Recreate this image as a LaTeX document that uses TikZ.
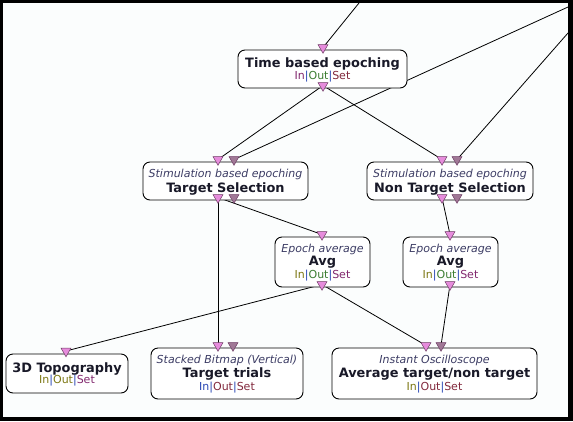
\documentclass[tikz,border=0pt]{standalone}
\usepackage{fontspec}
\setmainfont{DejaVu Sans}
\usetikzlibrary{shapes.geometric}
\pgfdeclarelayer{back}
\pgfdeclarelayer{mid}
\pgfsetlayers{back,mid,main}
\definecolor{bgc}{RGB}{251,253,253}
\definecolor{pinkT}{RGB}{230,140,220}
\definecolor{grayT}{RGB}{160,120,150}
\definecolor{triEdge}{RGB}{110,60,100}
\definecolor{italc}{RGB}{60,60,100}
\definecolor{boldc}{RGB}{25,25,40}
\definecolor{pipec}{RGB}{40,70,180}
\definecolor{olivec}{RGB}{125,120,20}
\definecolor{greenc}{RGB}{60,125,50}
\definecolor{maroonc}{RGB}{130,40,60}
\definecolor{purplec}{RGB}{130,40,110}
\newcommand{\iot}[3]{\textcolor{#1}{In}\textcolor{pipec}{|}\textcolor{#2}{Out}\textcolor{pipec}{|}\textcolor{#3}{Set}}
\tikzset{
  box/.style args={#1/#2}{draw=black, line width=0.9pt, rounded corners=7pt, fill=white,
    inner sep=0pt, minimum width=#1pt, minimum height=#2pt},
  tripink/.style={regular polygon, regular polygon sides=3, shape border rotate=180,
    minimum size=11.5pt, inner sep=0pt, fill=pinkT, draw=triEdge, line width=0.5pt},
  trigray/.style={tripink, fill=grayT},
  conn/.style={draw=black, line width=0.8pt},
  itl/.style={anchor=base, inner sep=0pt, text=italc, font=\fontsize{11}{13}\selectfont\itshape},
  bld/.style={anchor=base, inner sep=0pt, text=boldc, font=\fontsize{12.9}{15}\selectfont\bfseries},
  iotx/.style={anchor=base, inner sep=0pt, font=\fontsize{11}{13}\selectfont},
}
\begin{document}
\begin{tikzpicture}[x=1pt,y=-1pt]
\useasboundingbox (0,0) rectangle (573,421);
\begin{pgfonlayer}{back}
\fill[black] (0,0) rectangle (573,421);
\fill[bgc] (3,3) rectangle (568,417);
\end{pgfonlayer}

% edge coordinates
\coordinate (e1) at (359,3);
\coordinate (e2) at (568,7);
\coordinate (e3) at (568,33);

% boxes
\node[box=169/38] (TB) at (322.5,69) {};
\node[box=165/38] (TS) at (225.5,181) {};
\node[box=166/38] (NT) at (450,181) {};
\node[box=95/50] (A1) at (322.5,262) {};
\node[box=95/50] (A2) at (450.5,262) {};
\node[box=122/39] (TD) at (67,373.5) {};
\node[box=152/51] (TT) at (227,373.5) {};
\node[box=205/51] (AV) at (434.5,373.5) {};

% triangles
\node[tripink] (TBin) at (323,47.5) {};
\node[tripink] (TBout) at (323,85.5) {};
\node[tripink] (TSin1) at (218,159.5) {};
\node[trigray] (TSin2) at (234,159.5) {};
\node[tripink] (TSout1) at (218,197.5) {};
\node[trigray] (TSout2) at (234,197.5) {};
\node[tripink] (NTin1) at (442,159.5) {};
\node[trigray] (NTin2) at (457,159.5) {};
\node[tripink] (NTout1) at (442,197.5) {};
\node[trigray] (NTout2) at (457,197.5) {};
\node[tripink] (A1in) at (322,234.5) {};
\node[tripink] (A1out) at (322,284.5) {};
\node[tripink] (A2in) at (450,234.5) {};
\node[tripink] (A2out) at (450,284.5) {};
\node[tripink] (TDin) at (66,351) {};
\node[tripink] (TTin1) at (218,345.5) {};
\node[trigray] (TTin2) at (233,345.5) {};
\node[tripink] (AVin1) at (426,345.5) {};
\node[trigray] (AVin2) at (441,345.5) {};

% connectors (beneath boxes and triangles)
\begin{pgfonlayer}{mid}
\draw[conn] (e1) -- (TBin.center);
\draw[conn] (e2) -- (TSin2.center);
\draw[conn] (e3) -- (NTin2.center);
\draw[conn] (TBout.center) -- (TSin1.center);
\draw[conn] (TBout.center) -- (NTin1.center);
\draw[conn] (TSout1.center) -- (A1in.center);
\draw[conn] (TSout1.center) -- (TTin1.center);
\draw[conn] (NTout1.center) -- (A2in.center);
\draw[conn] (A1out.center) -- (TDin.center);
\draw[conn] (A1out.center) -- (AVin1.center);
\draw[conn] (A2out.center) -- (AVin2.center);
\end{pgfonlayer}

% texts
\node[bld] (TBb) at (322.5,67) {Time based epoching};
\node[iotx] (TBi) at (322.5,79.5) {\iot{purplec}{greenc}{maroonc}};
\node[itl] (TSa) at (225.5,177) {Stimulation based epoching};
\node[bld] (TSb) at (225.5,192) {Target Selection};
\node[itl] (NTa) at (450,177) {Stimulation based epoching};
\node[bld] (NTb) at (450,192) {Non Target Selection};
\node[itl] (A1a) at (322.5,252) {Epoch average};
\node[bld] (A1b) at (322.5,265) {Avg};
\node[iotx] (A1i) at (322.5,278.5) {\iot{olivec}{greenc}{purplec}};
\node[itl] (A2a) at (450.5,252) {Epoch average};
\node[bld] (A2b) at (450.5,265) {Avg};
\node[iotx] (A2i) at (450.5,278.5) {\iot{olivec}{greenc}{purplec}};
\node[bld] (TDb) at (67,372) {3D Topography};
\node[iotx] (TDi) at (67,383.5) {\iot{olivec}{olivec}{purplec}};
\node[itl] (TTa) at (227,363) {Stacked Bitmap (Vertical)};
\node[bld] (TTb) at (227,377.5) {Target trials};
\node[iotx] (TTi) at (227,390) {\iot{pipec}{maroonc}{maroonc}};
\node[itl] (AVa) at (434.5,363) {Instant Oscilloscope};
\node[bld] (AVb) at (434.5,377.5) {Average target/non target};
\node[iotx] (AVi) at (434.5,390) {\iot{olivec}{maroonc}{maroonc}};
\end{tikzpicture}
\end{document}
